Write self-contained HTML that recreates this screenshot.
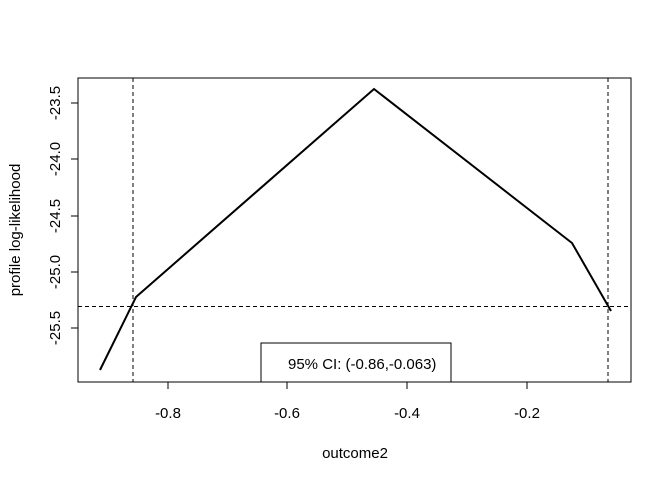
<!DOCTYPE html>
<html><head><meta charset="utf-8"><style>body{margin:0;background:#fff}</style></head>
<body>
<svg width="672" height="480" xmlns="http://www.w3.org/2000/svg" font-family="Liberation Sans, Arial, sans-serif" font-size="15">
<rect x="0" y="0" width="672" height="480" fill="#fff"/>
<rect x="78" y="78" width="553" height="304" fill="none" stroke="#000" stroke-width="1"/>
<g stroke="#000">
<line x1="168" y1="382" x2="168" y2="389"/><line x1="287" y1="382" x2="287" y2="389"/>
<line x1="407" y1="382" x2="407" y2="389"/><line x1="527" y1="382" x2="527" y2="389"/>
<line x1="78" y1="103" x2="71" y2="103"/><line x1="78" y1="159" x2="71" y2="159"/>
<line x1="78" y1="216" x2="71" y2="216"/><line x1="78" y1="272" x2="71" y2="272"/>
<line x1="78" y1="328" x2="71" y2="328"/>
</g>
<g text-anchor="middle">
<text x="168" y="418">-0.8</text><text x="287" y="418">-0.6</text>
<text x="407" y="418">-0.4</text><text x="527" y="418">-0.2</text>
<text x="355" y="458">outcome2</text>
<text transform="translate(60,103) rotate(-90)">-23.5</text>
<text transform="translate(60,159) rotate(-90)">-24.0</text>
<text transform="translate(60,216) rotate(-90)">-24.5</text>
<text transform="translate(60,272) rotate(-90)">-25.0</text>
<text transform="translate(60,328) rotate(-90)">-25.5</text>
<text transform="translate(20,230) rotate(-90)">profile log-likelihood</text>
</g>
<g stroke="#000" stroke-dasharray="4,3" stroke-width="1">
<line x1="133" y1="78" x2="133" y2="382"/>
<line x1="608" y1="78" x2="608" y2="382"/>
<line x1="78" y1="306.5" x2="631" y2="306.5"/>
</g>
<polyline points="100,370 136,297 374,89 572,243 611,311" fill="none" stroke="#000" stroke-width="2"/>
<rect x="261" y="343" width="190" height="39" fill="#fff" stroke="#000"/>
<text x="288" y="369">95% CI: (-0.86,-0.063)</text>
</svg>
</body></html>
